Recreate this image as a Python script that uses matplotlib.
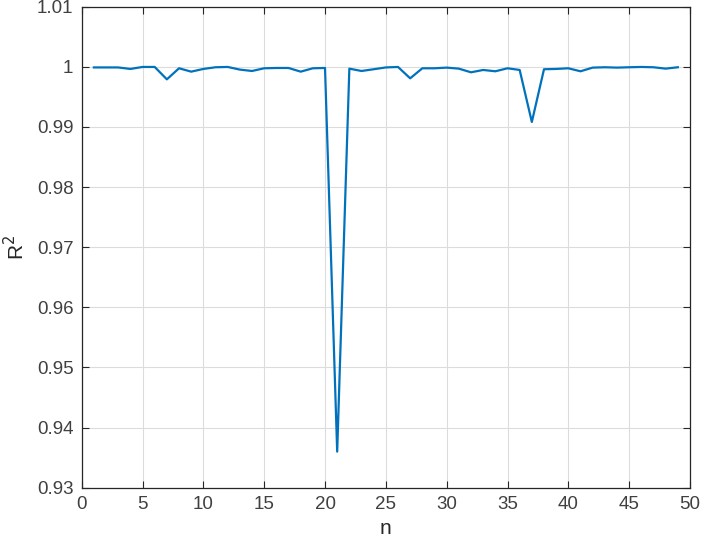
import matplotlib
matplotlib.use("Agg")
import matplotlib.pyplot as plt

# n = 1..49, R^2 values
n = list(range(1, 50))
r2 = [0.99990, 0.99990, 0.99990, 0.99965, 0.99998, 0.99998, 0.99792, 0.99976, 0.99920, 0.99965,
      0.99993, 0.99998, 0.99954, 0.99931, 0.99976, 0.99981, 0.99981, 0.99920, 0.99976, 0.99981,
      0.93600, 0.99970, 0.99931, 0.99960, 0.99990, 0.99998, 0.99809, 0.99976, 0.99976, 0.99987,
      0.99970, 0.99909, 0.99948, 0.99926, 0.99976, 0.99948, 0.99083, 0.99960, 0.99965, 0.99976,
      0.99926, 0.99987, 0.99993, 0.99987, 0.99993, 0.99998, 0.99993, 0.99970, 0.99993]

xticks = [0, 5, 10, 15, 20, 25, 30, 35, 40, 45, 50]
yticks = [0.93, 0.94, 0.95, 0.96, 0.97, 0.98, 0.99, 1.00, 1.01]
ytick_labels = ["0.93", "0.94", "0.95", "0.96", "0.97", "0.98", "0.99", "1", "1.01"]

plt.rcParams['font.family'] = ['Liberation Sans', 'DejaVu Sans']

fig = plt.figure(figsize=(7.05, 5.46), dpi=100)
ax = fig.add_axes([0.1159, 0.1068, 0.8628, 0.8809])

ax.plot(n, r2, color='#0072BD', linewidth=1.6)

ax.set_xlim(0, 50)
ax.set_ylim(0.93, 1.01)
ax.set_xticks(xticks)
ax.set_yticks(yticks)
ax.set_yticklabels(ytick_labels)

ax.grid(True, color='#dcdcdc', linewidth=0.8)
ax.set_axisbelow(True)

ax.tick_params(direction='in', top=True, right=True, length=5, width=0.8,
               colors='#262626', labelsize=13.5, labelcolor='#404040', pad=6)
for s in ax.spines.values():
    s.set_color('#262626')
    s.set_linewidth(0.9)

ax.set_xlabel("n", fontsize=15, color='#262626', labelpad=4)
ax.set_ylabel("R$^2$", fontsize=15, color='#262626', labelpad=6)

fig.savefig("out.png", dpi=100)
